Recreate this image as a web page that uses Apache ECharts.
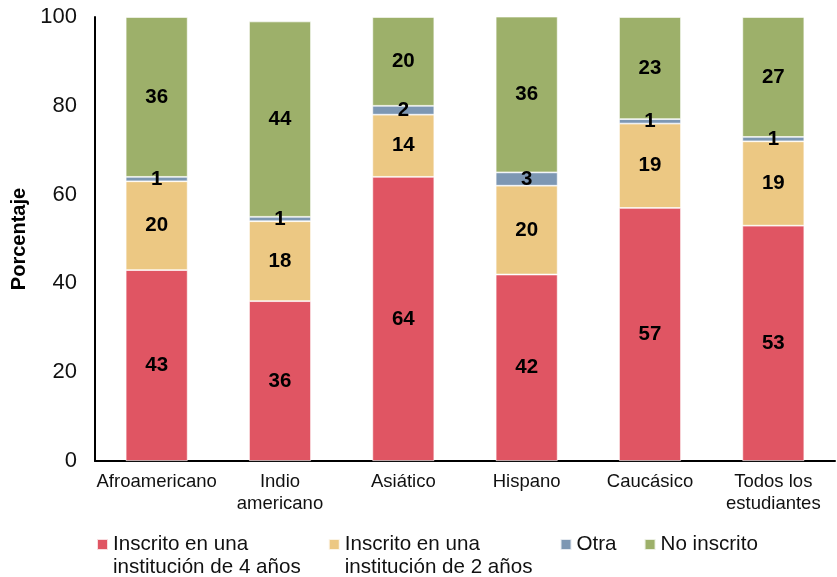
<!DOCTYPE html>
<html><head><meta charset="utf-8">
<script src="https://cdn.jsdelivr.net/npm/echarts@6/dist/echarts.min.js"></script>
<style>html,body{margin:0;padding:0;background:#fff}#c{width:837px;height:577px}</style>
</head><body><div id="c"></div>
<script>
var categories = ['Afroamericano', 'Indio\namericano', 'Asiático', 'Hispano', 'Caucásico', 'Todos los\nestudiantes'];
var seriesNames = ['Inscrito en una\ninstitución de 4 años', 'Inscrito en una\ninstitución de 2 años', 'Otra', 'No inscrito'];
var cuatroAnos = [43, 36, 64, 42, 57, 53];
var dosAnos = [20, 18, 14, 20, 19, 19];
var otra = [1, 1, 2, 3, 1, 1];
var noInscrito = [36, 44, 20, 36, 23, 27];
var yTicks = [0, 20, 40, 60, 80, 100];
var colors = ['#E05563', '#ECC883', '#7D97B3', '#9DB06A'];

var font = 'Liberation Sans, Arial, Helvetica, sans-serif';
var chart = echarts.init(document.getElementById('c'));
var data = [cuatroAnos, dosAnos, otra, noInscrito];
var series = data.map(function (d, i) {
  return {
    name: seriesNames[i], type: 'bar', stack: 'total', data: d, barWidth: 62,
    itemStyle: { color: colors[i], borderColor: 'rgba(255,255,255,0.8)', borderWidth: 0.8 },
    label: { show: true, position: 'inside', color: '#000', fontWeight: 'bold', fontSize: 20.5, fontFamily: font },
    clip: true
  };
});
chart.setOption({
  animation: false,
  color: colors,
  grid: { left: 95, right: 2, top: 17, bottom: 116, containLabel: false },
  legend: {
    left: 96, top: 510, padding: 0, itemWidth: 11, itemHeight: 11, itemGap: 27, icon: 'rect',
    textStyle: { fontFamily: font, fontSize: 20.6, color: '#111', lineHeight: 23 },
    formatter: function (n) { return n.indexOf('\n') >= 0 ? ' \n' + n : n; },
    data: seriesNames
  },
  xAxis: {
    type: 'category', data: categories,
    axisLine: { lineStyle: { color: '#000', width: 2 } },
    axisTick: { show: false },
    axisLabel: { fontFamily: font, fontSize: 18.5, color: '#111', margin: 10, lineHeight: 22, interval: 0 }
  },
  yAxis: {
    type: 'value', min: 0, max: 100, interval: 20,
    name: 'Porcentaje', nameLocation: 'middle', nameGap: 62,
    nameTextStyle: { fontFamily: font, fontSize: 20, fontWeight: 'bold', color: '#000' },
    axisLine: { show: true, lineStyle: { color: '#000', width: 2 } },
    axisTick: { show: false },
    splitLine: { show: false },
    axisLabel: { fontFamily: font, fontSize: 22, color: '#111', margin: 18,
      formatter: function (v) { return yTicks.indexOf(v) >= 0 ? String(v) : ''; } }
  },
  series: series
});
</script></body></html>
